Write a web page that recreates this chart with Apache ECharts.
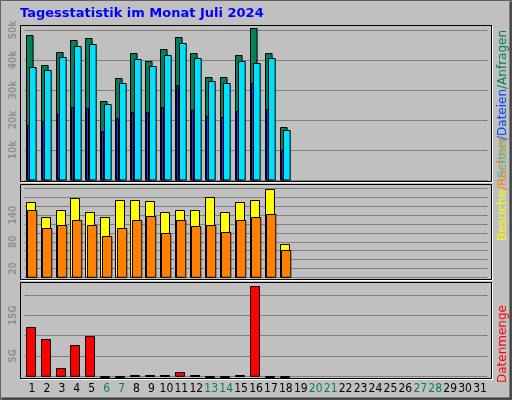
<!DOCTYPE html>
<html><head><meta charset="utf-8">
<script src="https://cdn.jsdelivr.net/npm/echarts@6/dist/echarts.min.js"></script>
<style>html,body{margin:0;padding:0;background:#c0c0c0;}#c{width:512px;height:400px;}</style>
</head><body><div id="c"></div>
<script>
var days = [];
for (var i = 1; i <= 31; i++) days.push(String(i));
var weekend = ['6','7','13','14','20','21','27','28'];
// Anfragen (hits)
var hits = [48300,38300,42600,46700,47200,26300,33900,42200,39600,43600,47600,42200,34400,34200,41600,50600,42200,17600];
// Seiten (cyan)
var pages = [37600,36600,40900,44600,45200,25200,32200,40200,37900,41600,45600,40600,32900,32200,39600,38900,40600,16600];
// Dateien (blue)
var files = [18200,19700,21900,24200,23900,16300,20600,22600,22600,24200,31700,23200,21200,20900,22900,32200,23600,10000];
// Besuche
var visits = [169,135,151,178,148,135,175,173,171,146,151,151,180,146,169,173,198,74];
// Rechner
var sites = [151,110,117,130,117,94,112,130,139,99,130,115,117,101,130,135,142,61];
// Datenmenge (GB)
var volume = [12.05,9.1,1.97,7.6,9.8,0.05,0.05,0.3,0.3,0.3,0.98,0.3,0.05,0.05,0.3,22.1,0.05,0.05];
var yTicks2 = [20,80,140];
var yTicks3 = [5,15];

function toData(arr){ return arr.map(function(v,i){ return [i, v]; }); }
function barSeries(arr, gi, color, off, w, z){
  return {
    type:'custom', xAxisIndex:gi, yAxisIndex:gi, z:z, data:toData(arr),
    encode:{x:0,y:1},
    renderItem:function(params, api){
      var top = api.coord([api.value(0), api.value(1)]);
      var base = api.coord([api.value(0), 0]);
      var x = Math.round(top[0] + off) + 0.5;
      var y = Math.round(top[1]) + 0.5;
      return {type:'rect', shape:{x:x, y:y, width:w, height:Math.max(base[1]-y,1)},
        style:{fill:color, stroke:'#000', lineWidth:1}};
    }
  };
}
var L = 24.5, W = 463;
var grids = [
  {left:L, width:W, top:25, height:155},
  {left:L, width:W, top:184, height:93.3},
  {left:L, width:W, top:282, height:94.3}
];
var FONT = 'DejaVu Sans Condensed, DejaVu Sans';
var yLabel = {color:'#909090', fontSize:10, fontFamily:FONT, fontWeight:'bold', rotate:90, margin:6};
function xAx(gi, show){
  return {type:'category', gridIndex:gi, data:days, boundaryGap:true,
    axisLine:{show:false}, axisTick:{show:false},
    axisLabel:{show:show, interval:0, fontSize:12, fontFamily:FONT, margin:7,
      formatter:function(v){ return weekend.indexOf(v)>=0 ? '{w|'+v+'}' : '{n|'+v+'}'; },
      rich:{w:{color:'#008060', fontSize:12, fontFamily:FONT}, n:{color:'#000', fontSize:12, fontFamily:FONT}}},
    splitLine:{show:false}};
}
function yAx(gi, max, interval, fmt){
  return {type:'value', gridIndex:gi, min:0, max:max, interval:interval,
    axisLine:{show:false}, axisTick:{show:false},
    axisLabel:Object.assign({formatter:fmt, showMaxLabel:false}, yLabel),
    splitLine:{lineStyle:{color:'#808080', width:1}}};
}
var panels = [[20,25,471,156],[20,184,471,95],[20,282,471,96]];
var graphics = [];
graphics.push({type:'rect', shape:{x:0.5,y:0.5,width:511,height:399}, style:{fill:'none', stroke:'#606060', lineWidth:1}, z:100});
graphics.push({type:'polyline', shape:{points:[[1.5,398.5],[510.5,398.5],[510.5,1.5]]}, style:{fill:'none', stroke:'#404040', lineWidth:2}, z:100});
panels.forEach(function(p){
  graphics.push({type:'rect', shape:{x:p[0]+0.5,y:p[1]+0.5,width:p[2],height:p[3]}, style:{fill:'none', stroke:'#000', lineWidth:1}, z:100});
  graphics.push({type:'polyline', shape:{points:[[p[0]+1.5,p[1]+p[3]+1.5],[p[0]+p[2]+1.5,p[1]+p[3]+1.5],[p[0]+p[2]+1.5,p[1]+1.5]]}, style:{fill:'none', stroke:'#fff', lineWidth:1}, z:100});
});
function vtext(x, yBottom, parts){
  graphics.push({type:'text', x:x, y:yBottom, rotation:Math.PI/2, z:100,
    style:{rich:{a:{fill:parts[0][1]},b:{fill:parts[1]&&parts[1][1]},c:{fill:parts[2]&&parts[2][1]}},
      text:parts.map(function(p,i){ return '{'+'abc'[i]+'|'+p[0]+'}'; }).join(''),
      font:'12px DejaVu Sans', verticalAlign:'middle', align:'left'}});
}
vtext(503, 178, [['Seiten','#00e0ff'],['/Dateien','#0040ff'],['/Anfragen','#00805c']]);
vtext(503, 241, [['Besuche','#ffff00'],['/Rechner','#ff8000']]);
vtext(503, 383, [['Datenmenge','#ff0000']]);
graphics.push({type:'text', x:20, y:14, z:100, style:{text:'Tagesstatistik im Monat Juli 2024', fill:'#0000ff', font:'bold 13px DejaVu Sans', verticalAlign:'middle'}});

var chart = echarts.init(document.getElementById('c'));
chart.setOption({
  backgroundColor:'#c0c0c0', animation:false,
  grid:grids,
  xAxis:[xAx(0,false), xAx(1,false), xAx(2,true)],
  yAxis:[
    yAx(0, 51667, 10000, function(v){ return v===0?'':(v/1000)+'k'; }),
    yAx(1, 210, 20, function(v){ return yTicks2.indexOf(v)>=0?String(v):''; }),
    yAx(2, 23.2, 5, function(v){ return yTicks3.indexOf(v)>=0?v+'G':''; })
  ],
  series:[
    barSeries(hits,0,'#00805c',-6.3,6.6,2),
    barSeries(pages,0,'#00e0ff',-2.7,6.7,3),
    barSeries(files,0,'#0040ff',-5.3,2,4),
    barSeries(visits,1,'#ffff00',-6.3,9,2),
    barSeries(sites,1,'#ff8000',-5,9.3,3),
    barSeries(volume,2,'#ff0000',-6.3,9,2)
  ],
  graphic:graphics
});
</script></body></html>
